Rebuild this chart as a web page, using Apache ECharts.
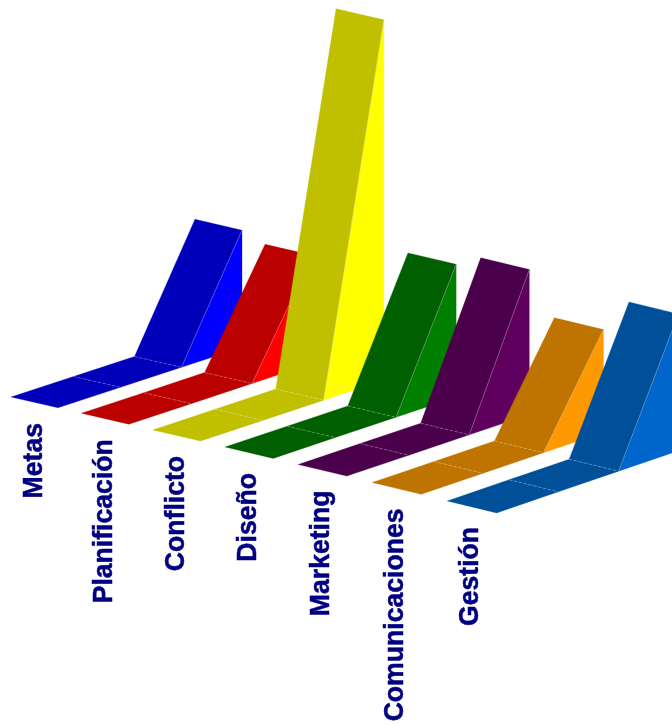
<!DOCTYPE html>
<html>
<head>
<meta charset="utf-8">
<style>html,body{margin:0;padding:0;background:#fff}#c{width:672px;height:725px}</style>
<script src="https://cdn.jsdelivr.net/npm/echarts@6/dist/echarts.min.js"></script>
</head>
<body>
<div id="c"></div>
<script>
const categories = ['Metas','Planificación','Conflicto','Diseño','Marketing','Comunicaciones','Gestión'];
const metas = [0, 0, 0, 3.25];
const planificacion = [0, 0, 0, 3.0];
const conflicto = [0, 0, 0, 9.98];
const diseno = [0, 0, 0, 3.68];
const marketing = [0, 0, 0, 4.02];
const comunicaciones = [0, 0, 0, 2.85];
const gestion = [0, 0, 0, 3.79];
const seriesValues = [metas, planificacion, conflicto, diseno, marketing, comunicaciones, gestion];
const faceColors = ['#0000BB','#BB0000','#C0C000','#005F00','#4B004B','#BF7300','#005099'];
const wallColors = ['#0000FF','#FF0000','#FFFF00','#007F00','#5F005F','#FF9900','#0066CC'];

const UNIT = 36.1, H = 725;
const depthX = [0, 62.5, 123.5, 184];

// Oblique projection: category c, depth index d, edge e (0 near-left, 1 right), value v
function project(api, c, d, e, v) {
  const x = 11 + 70 * c + 0.45 * c * c + depthX[d] * (1 - 0.002 * c) + e * (47 + 0.4 * c);
  const floorPx = 397 + 16 * c + 0.22 * c * c - (depthX[d] / 61) * (20 + 0.1 * c) + e * (10.8 + 0.2 * c);
  return api.coord([x, (H - floorPx) / UNIT + v]);
}

function renderSegment(c) {
  return function (params, api) {
    const d = api.value(0), v0 = api.value(1), v1 = api.value(2);
    const a = project(api, c, d, 0, v0), b = project(api, c, d, 1, v0);
    const p = project(api, c, d + 1, 1, v1), q = project(api, c, d + 1, 0, v1);
    const children = [];
    const seam = { stroke: 'rgba(255,255,255,0.45)', lineWidth: 0.6, lineDash: [3, 2], fill: null };
    if (v1 !== v0) {
      const w = project(api, c, d + 1, 1, 0);
      children.push({ type: 'polygon', shape: { points: [b, p, w] },
        style: { fill: wallColors[c], stroke: wallColors[c], lineWidth: 0.3 } });
    }
    children.push({ type: 'polygon', shape: { points: [a, b, p, q] },
      style: { fill: faceColors[c], stroke: faceColors[c], lineWidth: 0.3 } });
    if (d > 0) {
      children.push({ type: 'line', shape: { x1: a[0], y1: a[1], x2: b[0], y2: b[1] }, style: seam });
    }
    if (v1 !== v0) {
      children.push({ type: 'line', shape: { x1: b[0], y1: b[1], x2: p[0], y2: p[1] },
        style: { stroke: 'rgba(255,255,255,0.4)', lineWidth: 0.6, fill: null } });
    }
    if (d === 0) {
      const o = project(api, c, 0, 0, 0);
      children.push({ type: 'text', x: o[0] + 37, y: o[1] + 26, rotation: Math.PI / 2, scaleX: 0.95,
        style: { text: categories[c], fill: '#000080', stroke: '#000080', lineWidth: 0.5,
          align: 'right', verticalAlign: 'bottom',
          font: 'bold 28px "Liberation Sans", Arial, sans-serif' } });
    }
    return { type: 'group', children };
  };
}

const series = categories.map((name, c) => ({
  type: 'custom',
  name,
  coordinateSystem: 'cartesian2d',
  clip: false,
  silent: true,
  renderItem: renderSegment(c),
  data: seriesValues[c].slice(1).map((v, i) => [i, seriesValues[c][i], v])
}));

const chart = echarts.init(document.getElementById('c'), null, { renderer: 'canvas' });
chart.setOption({
  animation: false,
  backgroundColor: '#fff',
  grid: { left: 0, right: 0, top: 0, bottom: 0 },
  xAxis: { type: 'value', min: 0, max: 672, show: false },
  yAxis: { type: 'value', min: 0, max: H / UNIT, show: false },
  series
});
</script>
</body>
</html>
